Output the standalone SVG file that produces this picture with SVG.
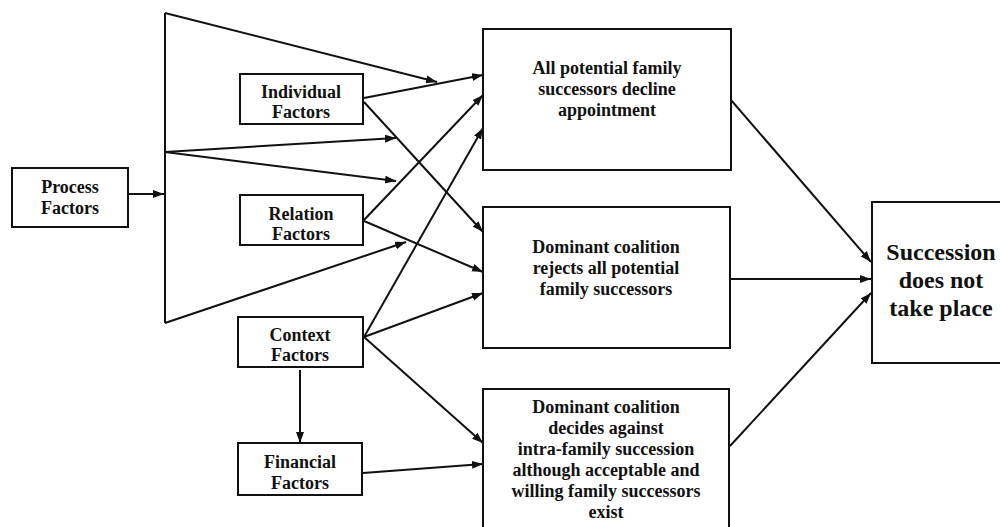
<svg xmlns="http://www.w3.org/2000/svg" width="1000" height="527" viewBox="0 0 1000 527">
<style>
.box{fill:#fff;stroke:#111;stroke-width:2}
.t{font-family:"Liberation Serif","Times New Roman",serif;font-weight:bold;font-size:18px;fill:#111;text-anchor:middle}
.big{font-size:24px}
.c{fill:none;stroke:#111;stroke-width:2}
.a{marker-end:url(#ah)}
</style>
<defs>
<marker id="ah" markerUnits="userSpaceOnUse" markerWidth="12" markerHeight="9" refX="11" refY="4" orient="auto">
<path d="M0,0 L11,4 L0,8 z" fill="#111"/>
</marker>
</defs>
<rect width="1000" height="527" fill="#fff"/>
<g id="connectors">
<path class="c" d="M165,13 L165,323"/>
<path class="c a" d="M165,13 L437,82"/>
<path class="c a" d="M165,323 L406,242"/>
<path class="c a" d="M165,152 L396,138"/>
<path class="c a" d="M165,152 L396,181"/>
<path class="c a" d="M128,194 L164,194"/>
<path class="c a" d="M364,98 L483,75"/>
<path class="c a" d="M364,102 L483,232"/>
<path class="c a" d="M364,220 L483,95"/>
<path class="c a" d="M364,221 L483,272"/>
<path class="c a" d="M364,337 L483,128"/>
<path class="c a" d="M364,337 L483,293"/>
<path class="c a" d="M364,337 L483,443"/>
<path class="c a" d="M300,370 L300,443"/>
<path class="c a" d="M363,473 L483,464"/>
<path class="c a" d="M731,100 L871,262"/>
<path class="c a" d="M730,279 L871,279"/>
<path class="c a" d="M730,446 L871,293"/>
</g>
<g id="process">
<rect class="box" x="12" y="168" width="116" height="59"/>
<text class="t" x="70" y="193">Process</text>
<text class="t" x="70" y="214">Factors</text>
</g>
<g id="individual">
<rect class="box" x="240" y="74" width="123" height="50"/>
<text class="t" x="301" y="98">Individual</text>
<text class="t" x="301" y="118">Factors</text>
</g>
<g id="relation">
<rect class="box" x="240" y="195" width="123" height="50"/>
<text class="t" x="301" y="220">Relation</text>
<text class="t" x="301" y="240">Factors</text>
</g>
<g id="context">
<rect class="box" x="238" y="317" width="125" height="50"/>
<text class="t" x="300" y="341">Context</text>
<text class="t" x="300" y="361">Factors</text>
</g>
<g id="financial">
<rect class="box" x="238" y="443" width="124" height="52"/>
<text class="t" x="300" y="468">Financial</text>
<text class="t" x="300" y="489">Factors</text>
</g>
<g id="decline">
<rect class="box" x="483" y="29" width="248" height="141"/>
<text class="t" x="607" y="74">All potential family</text>
<text class="t" x="607" y="95">successors decline</text>
<text class="t" x="607" y="116">appointment</text>
</g>
<g id="rejects">
<rect class="box" x="483" y="207" width="247" height="141"/>
<text class="t" x="606" y="253">Dominant coalition</text>
<text class="t" x="606" y="274">rejects all potential</text>
<text class="t" x="606" y="295">family successors</text>
</g>
<g id="decides">
<rect class="box" x="483" y="389" width="246" height="150"/>
<text class="t" x="606" y="413">Dominant coalition</text>
<text class="t" x="606" y="434">decides against</text>
<text class="t" x="606" y="455">intra-family succession</text>
<text class="t" x="606" y="476">although acceptable and</text>
<text class="t" x="606" y="497">willing family successors</text>
<text class="t" x="606" y="518">exist</text>
</g>
<g id="succession">
<rect class="box" x="872" y="202" width="140" height="161"/>
<text class="t big" x="941" y="260">Succession</text>
<text class="t big" x="941" y="288">does not</text>
<text class="t big" x="941" y="316">take place</text>
</g>
</svg>
